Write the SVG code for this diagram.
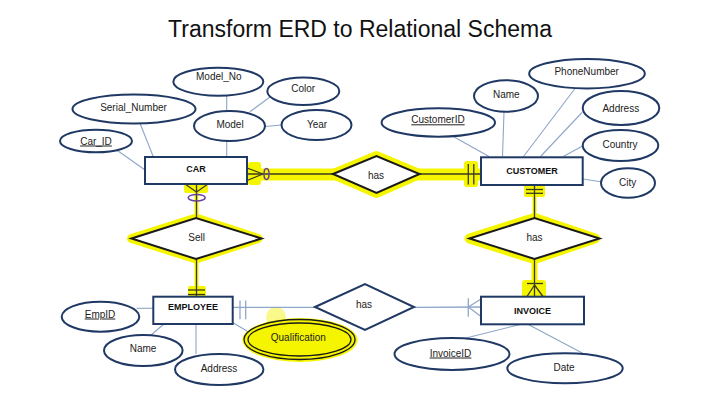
<svg xmlns="http://www.w3.org/2000/svg" width="720" height="404" viewBox="0 0 720 404">
<style>
.bg{fill:#ffffff}
.title{font-family:"Liberation Sans",Arial,sans-serif;font-size:23px;fill:#111111;text-anchor:middle}
.ent rect{fill:#ffffff;stroke:#1f3864;stroke-width:2}
.ent text{font-family:"Liberation Sans",Arial,sans-serif;font-size:9px;font-weight:bold;fill:#111111;text-anchor:middle}
.attr ellipse{fill:#ffffff;stroke:#1f3864;stroke-width:2}
.attr text, .rel text{font-family:"Liberation Sans",Arial,sans-serif;font-size:10px;fill:#222222;text-anchor:middle}
.key{text-decoration:underline}
.rel polygon{fill:#ffffff;stroke:#1a1a1a;stroke-width:2}
.rel polygon.plain{stroke:#1f3864}
.alink{stroke:#8ea6c8;stroke-width:1.1;fill:none}
.rlink{stroke:#3a3a22;stroke-width:1.3;fill:none}
.plink{stroke:#8ea6c8;stroke-width:1.3;fill:none}
.hl{fill:#f5f500;stroke:none}
.hls{stroke:#f5f500;fill:none;stroke-linejoin:round}
.opt{fill:none;stroke:#6a3fa0;stroke-width:1.5}
</style>
<rect class="bg" x="0" y="0" width="720" height="404"/>
<text class="title" x="360" y="37">Transform ERD to Relational Schema</text>

<g id="highlights">
  <rect class="hl" x="248" y="168.5" width="232" height="12"/>
  <rect class="hl" x="248" y="162" width="13" height="23" rx="3"/>
  <rect class="hl" x="464" y="161" width="14" height="26" rx="3"/>
  <polygon class="hls" stroke-width="10" points="333,174 376.5,156 419.5,174 376.5,193"/>
  <rect class="hl" x="184" y="184" width="24" height="9" rx="2"/>
  <line class="hls" x1="196.5" y1="184" x2="196.5" y2="297" stroke-width="4"/>
  <polygon class="hls" stroke-width="9" points="131.5,238.5 196,218 258,238.5 196,259"/>
  <rect class="hl" x="188" y="286" width="18" height="11" rx="2"/>
  <rect class="hl" x="524" y="185" width="21" height="12" rx="2"/>
  <line class="hls" x1="534.5" y1="185" x2="534.5" y2="218" stroke-width="4"/>
  <polygon class="hls" stroke-width="10" points="469.5,238.5 534.5,218 595,238.5 534.5,259"/>
  <line class="hls" x1="534.5" y1="259" x2="534.5" y2="297" stroke-width="6"/>
  <rect class="hl" x="522" y="280" width="24" height="21" rx="3"/>
  <circle cx="276" cy="317" r="10" fill="#f5f500" opacity="0.45"/>
  <ellipse class="hl" cx="300" cy="340" rx="57.5" ry="22"/>
</g>

<g id="connectors">
  <line class="alink" x1="116.7" y1="150" x2="145" y2="170"/>
  <line class="alink" x1="140" y1="123.3" x2="153.3" y2="156.7"/>
  <line class="alink" x1="226.7" y1="95.7" x2="226.7" y2="111"/>
  <line class="alink" x1="250" y1="111.7" x2="270" y2="97"/>
  <line class="alink" x1="265" y1="126.5" x2="281.5" y2="125"/>
  <line class="alink" x1="226.7" y1="141" x2="226.7" y2="156.7"/>
  <line class="alink" x1="453.3" y1="136.5" x2="489" y2="156.5"/>
  <line class="alink" x1="504" y1="112" x2="502.5" y2="156.5"/>
  <line class="alink" x1="575" y1="88.5" x2="523.5" y2="156.5"/>
  <line class="alink" x1="582" y1="112.5" x2="540.5" y2="156.5"/>
  <line class="alink" x1="583" y1="145.7" x2="563.3" y2="156.5"/>
  <line class="alink" x1="583" y1="179" x2="601" y2="181.7"/>
  <line class="alink" x1="136.7" y1="308.3" x2="153.3" y2="308.3"/>
  <line class="alink" x1="150" y1="336" x2="163.3" y2="324.5"/>
  <line class="alink" x1="196" y1="354" x2="196" y2="324.5"/>
  <line class="alink" x1="233" y1="322.7" x2="247" y2="331"/>
  <line class="alink" x1="465" y1="338.3" x2="520" y2="324.5"/>
  <line class="alink" x1="582.7" y1="353.3" x2="528.3" y2="324.5"/>

  <line class="rlink" x1="247" y1="174" x2="333" y2="174"/>
  <line class="rlink" x1="247" y1="168" x2="263" y2="174"/>
  <line class="rlink" x1="247" y1="180.5" x2="263" y2="174"/>
  <ellipse class="opt" cx="266.5" cy="174" rx="2.5" ry="5.5"/>
  <line class="rlink" x1="419.5" y1="174" x2="481" y2="174"/>
  <line class="rlink" x1="468.3" y1="164" x2="468.3" y2="184.5"/>
  <line class="rlink" x1="473.8" y1="164" x2="473.8" y2="184.5"/>

  <line class="rlink" x1="196.5" y1="184" x2="196.5" y2="218"/>
  <line class="rlink" x1="185" y1="184" x2="196.5" y2="192"/>
  <line class="rlink" x1="208" y1="184" x2="196.5" y2="192"/>
  <ellipse class="opt" cx="196.7" cy="197.7" rx="8.5" ry="3.3"/>
  <line class="rlink" x1="196.5" y1="259" x2="196.5" y2="297"/>
  <line class="rlink" x1="188" y1="290" x2="205" y2="290"/>
  <line class="rlink" x1="188" y1="294.5" x2="205" y2="294.5"/>

  <line class="rlink" x1="534.5" y1="185" x2="534.5" y2="218"/>
  <line class="rlink" x1="526" y1="189.5" x2="543" y2="189.5"/>
  <line class="rlink" x1="526" y1="193.3" x2="543" y2="193.3"/>
  <line class="rlink" x1="534.5" y1="259" x2="534.5" y2="297"/>
  <line class="rlink" x1="527" y1="283.5" x2="543" y2="283.5"/>
  <line class="rlink" x1="534.5" y1="285" x2="526.7" y2="297"/>
  <line class="rlink" x1="534.5" y1="285" x2="543.3" y2="297"/>

  <line class="plink" x1="232.7" y1="307.3" x2="315" y2="307.3"/>
  <line class="plink" x1="240" y1="300.5" x2="240" y2="319.3"/>
  <line class="plink" x1="245.7" y1="300.5" x2="245.7" y2="319.3"/>
  <line class="plink" x1="414" y1="307.3" x2="481" y2="307"/>
  <line class="plink" x1="468.3" y1="298.3" x2="468.3" y2="316.7"/>
  <line class="plink" x1="468.3" y1="307" x2="481" y2="299"/>
  <line class="plink" x1="468.3" y1="307" x2="481" y2="316.5"/>
</g>

<g id="car" class="ent"><rect x="145" y="157" width="102" height="27"/><text x="196" y="171.5">CAR</text></g>
<g id="customer" class="ent"><rect x="481" y="157.3" width="101.7" height="27.7"/><text x="532" y="174">CUSTOMER</text></g>
<g id="employee" class="ent"><rect x="153.3" y="296.7" width="79.4" height="27.3"/><text x="193" y="310">EMPLOYEE</text></g>
<g id="invoice" class="ent"><rect x="481" y="296.7" width="103" height="27.6"/><text x="532.5" y="313.5">INVOICE</text></g>

<g id="rel-car-customer" class="rel"><polygon points="333,174 376.5,156 419.5,174 376.5,193"/><text x="376" y="178.5">has</text></g>
<g id="rel-sell" class="rel"><polygon points="131.5,238.5 196,218 261.5,238.5 196,259"/><text x="196.7" y="241">Sell</text></g>
<g id="rel-customer-invoice" class="rel"><polygon points="469.5,238.5 534.5,218 599.5,238.5 534.5,259"/><text x="534.5" y="241">has</text></g>
<g id="rel-employee-invoice" class="rel"><polygon class="plain" points="315,307 365,284 414,307 365,330"/><text x="364" y="308.3">has</text></g>

<g id="attr-car-id" class="attr"><ellipse cx="96" cy="141" rx="36" ry="11.3"/><text class="key" x="96" y="144.5">Car_ID</text></g>
<g id="attr-serial-number" class="attr"><ellipse cx="134" cy="109" rx="61.5" ry="14.5"/><text x="133.5" y="111">Serial_Number</text></g>
<g id="attr-model-no" class="attr"><ellipse cx="218.3" cy="81.7" rx="45" ry="14"/><text x="218.8" y="80">Model_No</text></g>
<g id="attr-model" class="attr"><ellipse cx="229.5" cy="126" rx="35.5" ry="15"/><text x="230" y="128">Model</text></g>
<g id="attr-color" class="attr"><ellipse cx="303.3" cy="91.3" rx="36" ry="13.7"/><text x="303.2" y="92.3">Color</text></g>
<g id="attr-year" class="attr"><ellipse cx="316.5" cy="125" rx="35" ry="15"/><text x="317" y="128">Year</text></g>

<g id="attr-customer-id" class="attr"><ellipse cx="438.3" cy="122.5" rx="56.7" ry="14.2"/><text class="key" x="438" y="123.3">CustomerID</text></g>
<g id="attr-customer-name" class="attr"><ellipse cx="506" cy="96" rx="32" ry="15.8"/><text x="506.3" y="98.3">Name</text></g>
<g id="attr-phone" class="attr"><ellipse cx="587" cy="73.7" rx="57.8" ry="14.7"/><text x="586.7" y="75">PhoneNumber</text></g>
<g id="attr-customer-address" class="attr"><ellipse cx="621" cy="108" rx="38.3" ry="17"/><text x="620.8" y="111.7">Address</text></g>
<g id="attr-country" class="attr"><ellipse cx="620.5" cy="145.5" rx="37.8" ry="15.5"/><text x="620" y="148">Country</text></g>
<g id="attr-city" class="attr"><ellipse cx="628" cy="183" rx="27" ry="14.7"/><text x="627.7" y="186">City</text></g>

<g id="attr-emp-id" class="attr"><ellipse cx="100.5" cy="316.7" rx="38.8" ry="15"/><text class="key" x="100" y="317.5">EmpID</text></g>
<g id="attr-emp-name" class="attr"><ellipse cx="143.3" cy="350.5" rx="39.3" ry="15.5"/><text x="143" y="352">Name</text></g>
<g id="attr-emp-address" class="attr"><ellipse cx="219.2" cy="369.5" rx="44.2" ry="15.5"/><text x="219" y="372">Address</text></g>
<g id="attr-qualification"><ellipse cx="299.5" cy="339.5" rx="55.5" ry="20" fill="none" stroke="#1a1a1a" stroke-width="1.3"/><ellipse cx="299.5" cy="339.5" rx="51.5" ry="16.5" fill="none" stroke="#1a1a1a" stroke-width="1.3"/><text x="298.3" y="340.5" font-family="Liberation Sans, Arial, sans-serif" font-size="10" fill="#222222" text-anchor="middle">Qualification</text></g>

<g id="attr-invoice-id" class="attr"><ellipse cx="452" cy="354" rx="57.5" ry="16"/><text class="key" x="450.5" y="356.5">InvoiceID</text></g>
<g id="attr-date" class="attr"><ellipse cx="565" cy="368.3" rx="57.7" ry="15"/><text x="564" y="371">Date</text></g>
</svg>
